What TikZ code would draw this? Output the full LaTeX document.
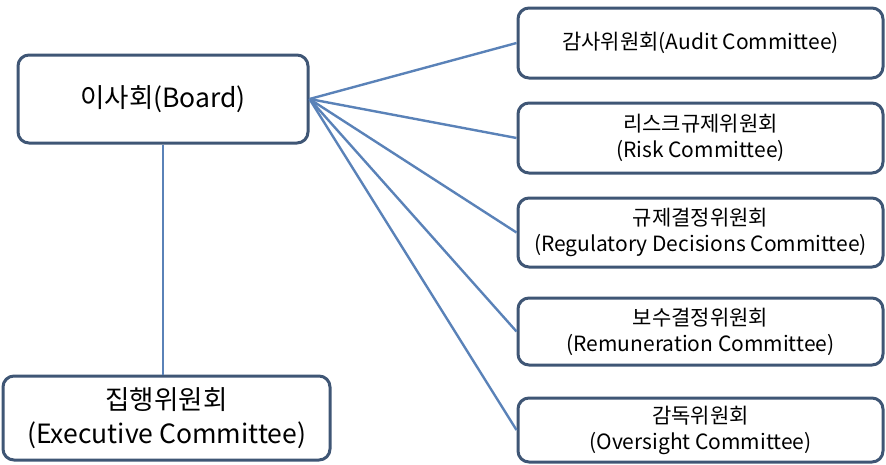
\documentclass[tikz,border=0pt]{standalone}
\usepackage{fontspec}
\setmainfont{Noto Sans CJK KR}
\definecolor{boxline}{HTML}{3F5675}
\definecolor{conn}{HTML}{5A82B8}
\begin{document}
\begin{tikzpicture}[x=1pt,y=-1pt,
  box/.style={draw=boxline, line width=3pt, rounded corners=11pt, fill=white, align=center, inner sep=0pt},
  bigbox/.style={box, font=\fontsize{26.5}{34}\selectfont},
  smallbox/.style={box, minimum width=365pt, font=\fontsize{21}{26}\selectfont},
  link/.style={draw=conn, line width=2.4pt}]
\useasboundingbox (0,0) rectangle (886,464);
\node[bigbox, minimum width=290pt, minimum height=88pt] (board) at (163,99) {이사회(Board)};
\node[bigbox, minimum width=327pt, minimum height=84pt] (exec) at (166.5,418) {집행위원회\\(Executive Committee)};
\node[smallbox, minimum height=70pt] (audit) at (700.5,43) {감사위원회(Audit Committee)};
\node[smallbox, minimum height=70pt] (risk) at (700.5,138) {리스크규제위원회\\(Risk Committee)};
\node[smallbox, minimum height=69pt] (reg) at (700.5,232.5) {규제결정위원회\\(Regulatory Decisions Committee)};
\node[smallbox, minimum height=67pt] (rem) at (700.5,331.5) {보수결정위원회\\(Remuneration Committee)};
\node[smallbox, minimum height=64pt] (over) at (700.5,430) {감독위원회\\(Oversight Committee)};
\draw[link] (board.south) -- (board.south |- exec.north);
\foreach \t in {audit,risk,reg,rem,over}{
  \draw[link] (board.east) -- (\t.west);
}
\end{tikzpicture}
\end{document}
